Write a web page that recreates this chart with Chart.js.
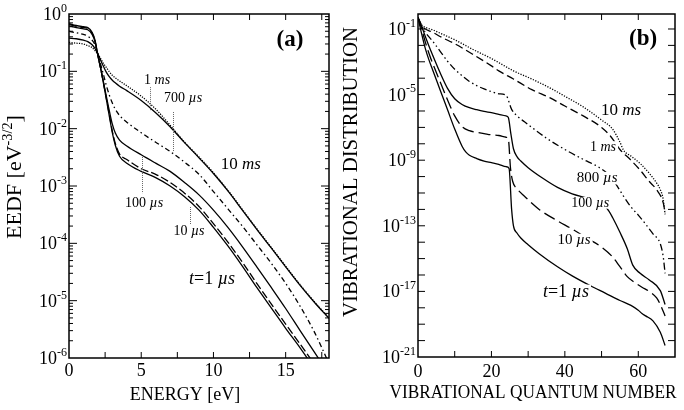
<!DOCTYPE html>
<html><head><meta charset="utf-8">
<script src="https://cdn.jsdelivr.net/npm/chart.js@4.4.0/dist/chart.umd.min.js"></script>
<style>
html,body{margin:0;padding:0;background:#fff;}
#wrap{position:relative;width:684px;height:410px;overflow:hidden;}
canvas{position:absolute;top:0;}
#ca{left:0}
#cb{left:342px}
</style></head><body>
<div id="wrap"><canvas id="ca" width="342" height="410"></canvas><canvas id="cb" width="342" height="410"></canvas></div>
<script>
// ---------------- Panel (a): EEDF vs energy ----------------
const energy = [0, 0.5, 1, 1.3, 1.6, 1.8, 2, 2.2, 2.4, 2.6, 2.8, 3, 3.2, 3.5, 4, 5, 6, 7, 8, 9, 10, 11, 12, 13, 14, 15, 16, 17, 18];
const eedf1us   = [0.68, 0.63, 0.60, 0.58, 0.48, 0.35, 0.19, 0.11, 0.06, 0.031, 0.016, 0.0085, 0.0052, 0.0033, 0.0025, 0.0018, 0.0014, 0.001, 6.5e-4, 3.8e-4, 1.9e-4, 9e-5, 4e-5, 1.7e-5, 7.5e-6, 3.3e-6, 1.5e-6, 6.5e-7, 2.8e-7];
const eedf10us  = [0.66, 0.61, 0.58, 0.56, 0.46, 0.34, 0.19, 0.11, 0.06, 0.032, 0.017, 0.009, 0.0056, 0.0036, 0.0029, 0.002, 0.0016, 0.00115, 7.5e-4, 4.4e-4, 2.2e-4, 1.05e-4, 4.7e-5, 2e-5, 8.8e-6, 3.9e-6, 1.75e-6, 7.7e-7, 3.3e-7];
const eedf100us = [0.62, 0.58, 0.55, 0.53, 0.44, 0.33, 0.19, 0.11, 0.062, 0.035, 0.02, 0.012, 0.0085, 0.0063, 0.005, 0.0035, 0.0025, 0.0018, 0.00115, 7e-4, 3.8e-4, 1.9e-4, 8.8e-5, 3.9e-5, 1.7e-5, 7.3e-6, 3e-6, 1.25e-6, 5.2e-7];
const eedf700us = [0.50, 0.47, 0.44, 0.41, 0.35, 0.29, 0.20, 0.13, 0.085, 0.055, 0.038, 0.028, 0.022, 0.017, 0.013, 0.0085, 0.0058, 0.004, 0.0026, 0.0016, 8e-4, 4e-4, 2e-4, 9.5e-5, 4.5e-5, 2e-5, 8e-6, 2.8e-6, 8e-7];
const eedf1ms   = [0.38, 0.37, 0.35, 0.33, 0.29, 0.25, 0.20, 0.155, 0.12, 0.095, 0.08, 0.07, 0.063, 0.055, 0.046, 0.031, 0.019, 0.0108, 0.0057, 0.0031, 0.00165, 8.2e-4, 3.8e-4, 1.75e-4, 8.3e-5, 3.9e-5, 1.85e-5, 9.3e-6, 4.9e-6];
const eedf10ms  = [0.32, 0.31, 0.30, 0.28, 0.26, 0.23, 0.20, 0.165, 0.135, 0.115, 0.098, 0.085, 0.077, 0.068, 0.056, 0.037, 0.022, 0.0115, 0.0058, 0.0032, 0.0017, 8.4e-4, 3.9e-4, 1.8e-4, 8.5e-5, 4e-5, 1.9e-5, 9.5e-6, 5e-6];
const energyTickLabels = [0, 5, 10, 15];
const energyTickMarks = [2.5, 5, 7.5, 10, 12.5, 15, 17.5];
const eedfTickExps = [0, -1, -2, -3, -4, -5, -6];

// ---------------- Panel (b): vibrational distribution ----------------
const vq1us   = [0, 1, 2, 3, 4, 6, 8, 10, 12, 13, 14, 16, 18, 20, 22, 24, 24.8, 25.5, 26, 27, 28, 30, 33, 38, 42, 47, 51, 55, 58, 60, 61, 62, 64, 66, 67.3];
const vdf1us  = [0.5, 5.0e-2, 6.3e-3, 1.26e-3, 3.2e-4, 2.0e-5, 1.26e-6, 7.9e-8, 7.1e-9, 3.2e-9, 2.0e-9, 1.26e-9, 8.9e-10, 7.1e-10, 5.6e-10, 4.0e-10, 3.2e-10, 1e-12, 1e-13, 3.5e-14, 1.8e-14, 7.1e-15, 2.0e-15, 3.2e-16, 8.9e-17, 2.2e-17, 7.9e-18, 2.8e-18, 1.4e-18, 7.1e-19, 4.5e-19, 3.2e-19, 1.6e-19, 3.2e-20, 5.0e-21];
const vq10us  = [0, 1, 2, 3, 4, 6, 8, 10, 12, 14, 16, 18, 20, 22, 24, 24.6, 25.2, 25.8, 27, 29, 33, 38, 42, 46, 50, 53, 55, 57, 59, 61, 63, 65, 66, 67.3];
const vdf10us = [0.5, 0.1, 1.58e-2, 3.2e-3, 7.9e-4, 6.3e-5, 5.0e-6, 5.0e-7, 1.12e-7, 6.3e-8, 5.0e-8, 4.2e-8, 3.5e-8, 3.2e-8, 2.5e-8, 2.0e-8, 3.2e-10, 5.0e-11, 1.78e-11, 6.3e-12, 1e-12, 2.0e-13, 6.3e-14, 1.78e-14, 5.0e-15, 1.26e-15, 3.2e-16, 7.9e-17, 3.5e-17, 1.78e-17, 1e-17, 4.0e-18, 1.58e-18, 3.2e-19];
const vq100us  = [0, 1, 2, 3, 4, 6, 8, 10, 12, 14, 16, 18, 20, 22, 24, 24.6, 25.3, 26, 27, 28, 30, 34, 38, 42, 46, 50, 52, 53, 55, 57, 58.5, 60.5, 63, 66, 67.3];
const vdf100us = [0.5, 0.141, 3.5e-2, 8.9e-3, 2.5e-3, 2.2e-4, 2.5e-5, 5.6e-6, 2.5e-6, 1.58e-6, 1.2e-6, 9.5e-7, 7.9e-7, 6.3e-7, 5.0e-7, 4.0e-7, 4.0e-8, 5.0e-9, 1.58e-9, 8.9e-10, 3.5e-10, 7.9e-11, 2.2e-11, 8.9e-12, 5.0e-12, 2.5e-12, 7.9e-13, 3.2e-13, 4.0e-14, 4.0e-15, 4.0e-16, 1.26e-16, 5.0e-17, 1.12e-17, 1.58e-18];
const vq800us  = [0, 1, 2, 4, 6, 8, 10, 12, 14, 16, 18, 20, 22, 24, 25.5, 27, 29, 31, 35, 40, 45, 49, 52, 54, 56, 58, 60, 62, 64, 66, 66.8, 67.3];
const vdf800us = [0.5, 0.158, 6.3e-2, 1.78e-2, 4.5e-3, 1.12e-3, 3.5e-4, 1.41e-4, 6.3e-5, 3.5e-5, 2.2e-5, 1.5e-5, 1.12e-5, 8.9e-6, 1.26e-6, 5.0e-7, 2.2e-7, 1e-7, 2.2e-8, 4.5e-9, 1.12e-9, 4.0e-10, 1.26e-10, 3.2e-11, 6.3e-12, 1.41e-12, 4.5e-13, 1.26e-13, 3.2e-14, 7.9e-15, 1.26e-15, 1.26e-16];
const vq1ms  = [0, 1, 2, 4, 6, 10, 15, 20, 22, 26, 31, 36, 40, 45, 50, 52.5, 55, 58, 60.5, 63, 65, 66.8, 67.3];
const vdf1ms = [0.5, 0.158, 0.1, 6.3e-2, 3.5e-2, 1.26e-2, 2.8e-3, 5.6e-4, 2.8e-4, 8.9e-5, 2.0e-5, 6.3e-6, 2.0e-6, 5.0e-7, 1e-7, 2.8e-8, 4.5e-9, 1e-9, 2.5e-10, 5.0e-11, 1.58e-11, 2.5e-12, 6.3e-13];
const vq10ms  = [0, 1, 2, 4, 6, 10, 15, 20, 22, 26, 31, 36, 40, 45, 50, 53, 55, 56, 58, 60.5, 63, 65, 66, 66.8, 67.3];
const vdf10ms = [0.5, 0.178, 0.126, 8.9e-2, 5.6e-2, 2.2e-2, 5.6e-3, 1.58e-3, 8.9e-4, 2.8e-4, 8.9e-5, 2.5e-5, 7.9e-6, 1.78e-6, 2.8e-7, 7.9e-8, 1.26e-8, 4.0e-9, 1.78e-9, 6.3e-10, 1.58e-10, 4.0e-11, 1.58e-11, 4.0e-12, 5.0e-13];
const vibTickLabels = [0, 20, 40, 60];
const vibTickMarks = [10, 20, 30, 40, 50, 60];
const vibTickExps = [-1, -5, -9, -13, -17, -21];

// ---------------- helpers ----------------
const FONT = '"Liberation Serif","Times New Roman",serif';
function fnt(size, it, bold) { return (it ? 'italic ' : '') + (bold ? 'bold ' : '') + size + 'px ' + FONT; }
function pts(xs, ys) { return xs.map((x, i) => ({ x: x, y: ys[i] })); }
function ds(xs, ys, dash) {
  return { data: pts(xs, ys), borderColor: '#000', borderWidth: 1.3, borderDash: dash || [],
    pointRadius: 0, fill: false, cubicInterpolationMode: 'monotone' };
}
function richW(ctx, parts, size) {
  let w = 0;
  for (const p of parts) { ctx.font = fnt(p.s ? size * 0.65 : size, p.i, p.b); w += ctx.measureText(p.t).width; }
  return w;
}
function drawRich(ctx, parts, cx, cy, size, bg, maxW) {
  const w = richW(ctx, parts, size);
  const k = (maxW && w > maxW) ? maxW / w : 1;
  ctx.save(); ctx.translate(cx, cy); ctx.scale(k, 1);
  let x = -w / 2;
  if (bg) { ctx.fillStyle = '#fff'; ctx.fillRect(x - 2, -size * 0.42, w + 4, size * 0.84); }
  ctx.fillStyle = '#000'; ctx.textBaseline = 'middle'; ctx.textAlign = 'left';
  for (const p of parts) {
    const sz = p.s ? size * 0.65 : size;
    ctx.font = fnt(sz, p.i, p.b);
    ctx.fillText(p.t, x, p.s ? -size * 0.32 : 0);
    x += ctx.measureText(p.t).width;
  }
  ctx.restore();
}
function drawSci(ctx, exp, xr, yc, big, small) {
  ctx.textBaseline = 'alphabetic'; ctx.textAlign = 'left'; ctx.fillStyle = '#000';
  ctx.font = fnt(big); const wb = ctx.measureText('10').width;
  ctx.font = fnt(small); const es = String(exp); const we = ctx.measureText(es).width;
  const x0 = xr - we - wb;
  ctx.font = fnt(big); ctx.fillText('10', x0, yc + big * 0.33);
  ctx.font = fnt(small); ctx.fillText(es, x0 + wb, yc - big * 0.12);
}

const decor = {
  id: 'decor',
  afterDatasetsDraw(chart, args, o) {
    const ctx = chart.ctx, a = chart.chartArea, xs = chart.scales.x, ys = chart.scales.y;
    ctx.save();
    // leader lines
    ctx.strokeStyle = '#666'; ctx.lineWidth = 1; ctx.setLineDash([1, 1]);
    for (const l of (o.leaders || [])) {
      const x = Math.round(xs.getPixelForValue(l.x)) + 0.5;
      ctx.beginPath(); ctx.moveTo(x, ys.getPixelForValue(l.y1)); ctx.lineTo(x, ys.getPixelForValue(l.y2)); ctx.stroke();
    }
    ctx.setLineDash([]);
    // curve labels
    for (const n of o.notes) drawRich(ctx, n.parts, xs.getPixelForValue(n.x), ys.getPixelForValue(n.y), n.size, o.noteBg);
    // frame
    ctx.strokeStyle = '#000'; ctx.lineWidth = 1.5;
    ctx.strokeRect(a.left, a.top, a.right - a.left, a.bottom - a.top);
    // ticks (inward, mirrored)
    ctx.lineWidth = 1; ctx.beginPath();
    for (const v of o.xMarks) {
      const x = xs.getPixelForValue(v);
      if (x <= a.left + 1 || x >= a.right - 1) continue;
      ctx.moveTo(x, a.bottom); ctx.lineTo(x, a.bottom - o.xLen);
      ctx.moveTo(x, a.top); ctx.lineTo(x, a.top + o.xLen);
    }
    for (const v of o.yMajor) {
      const y = ys.getPixelForValue(v);
      if (y <= a.top + 1 || y >= a.bottom - 1) continue;
      ctx.moveTo(a.left, y); ctx.lineTo(a.left + o.yLen, y);
      ctx.moveTo(a.right, y); ctx.lineTo(a.right - o.yLen, y);
    }
    for (const v of (o.yMinor || [])) {
      const y = ys.getPixelForValue(v);
      if (y <= a.top + 1 || y >= a.bottom - 1) continue;
      ctx.moveTo(a.left, y); ctx.lineTo(a.left + o.yMinLen, y);
      ctx.moveTo(a.right, y); ctx.lineTo(a.right - o.yMinLen, y);
    }
    ctx.stroke();
    // tick labels
    ctx.fillStyle = '#000'; ctx.textAlign = 'center'; ctx.textBaseline = 'alphabetic';
    ctx.font = fnt(o.tickSize);
    for (const v of o.xLabels) ctx.fillText(String(v), xs.getPixelForValue(v), a.bottom + o.xLabelDy);
    for (const e of o.yExps) drawSci(ctx, e, a.left - 2, ys.getPixelForValue(Math.pow(10, e)), o.tickSize, o.supSize);
    // x title
    drawRich(ctx, o.xTitle.parts, o.xTitle.x, o.xTitle.y, o.xTitle.size, false, o.xTitle.w);
    // y title (rotated)
    ctx.save(); ctx.translate(o.yTitle.x, o.yTitle.y); ctx.rotate(-Math.PI / 2);
    drawRich(ctx, o.yTitle.parts, 0, 0, o.yTitle.size, false, o.yTitle.w);
    ctx.restore();
    // panel tag
    drawRich(ctx, [{ t: o.tag.t, b: true }], xs.getPixelForValue(o.tag.x), ys.getPixelForValue(o.tag.y), o.tag.size, false);
    ctx.restore();
  }
};

function baseOpts(xmin, xmax, ymin, ymax, pad, deco) {
  return {
    responsive: false, animation: false, devicePixelRatio: 1,
    layout: { padding: pad },
    scales: {
      x: { type: 'linear', min: xmin, max: xmax, display: false },
      y: { type: 'logarithmic', min: ymin, max: ymax, display: false }
    },
    plugins: { legend: { display: false }, tooltip: { enabled: false }, decor: deco }
  };
}

const minorA = [];
for (let k = -6; k < 0; k++) for (let m = 2; m <= 9; m++) minorA.push(m * Math.pow(10, k));

new Chart(document.getElementById('ca'), {
  type: 'line',
  data: { datasets: [
    ds(energy, eedf1us, []),
    ds(energy, eedf10us, [8, 3]),
    ds(energy, eedf100us, []),
    ds(energy, eedf700us, [5, 3, 1.5, 3]),
    ds(energy, eedf1ms, []),
    ds(energy, eedf10ms, [1.2, 1.3])
  ] },
  options: baseOpts(0, 18, 1e-6, 1, { left: 69, right: 13, top: 14, bottom: 52 }, {
    xMarks: energyTickMarks, xLabels: energyTickLabels, xLen: 6, xLabelDy: 18,
    yMajor: eedfTickExps.map(e => Math.pow(10, e)), yMinor: minorA, yLen: 8, yMinLen: 4,
    yExps: eedfTickExps, tickSize: 18, supSize: 12,
    xTitle: { parts: [{ t: 'ENERGY [eV]' }], x: 185, y: 395, size: 18, w: 114 },
    yTitle: { parts: [{ t: 'EEDF [eV' }, { t: '-3/2', s: true }, { t: ']' }], x: 15, y: 177, size: 22 },
    tag: { t: '(a)', x: 15.3, y: 0.35, size: 23 },
    noteBg: false,
    leaders: [
      { x: 5.62, y1: 0.053, y2: 0.021 },
      { x: 7.22, y1: 0.0195, y2: 0.0039 },
      { x: 5.07, y1: 3.2e-3, y2: 7.5e-4 },
      { x: 8.4, y1: 4.3e-4, y2: 2.1e-4 }
    ],
    notes: [
      { parts: [{ t: '1 ' }, { t: 'ms', i: true }], x: 6.1, y: 0.07, size: 14 },
      { parts: [{ t: '700 ' }, { t: 'µs', i: true }], x: 7.9, y: 0.034, size: 14 },
      { parts: [{ t: '10 ' }, { t: 'ms', i: true }], x: 11.9, y: 2.4e-3, size: 17 },
      { parts: [{ t: '100 ' }, { t: 'µs', i: true }], x: 5.2, y: 5e-4, size: 14 },
      { parts: [{ t: '10 ' }, { t: 'µs', i: true }], x: 8.3, y: 1.6e-4, size: 14 },
      { parts: [{ t: 't', i: true }, { t: '=1 ' }, { t: 'µs', i: true }], x: 9.9, y: 2.4e-5, size: 18 }
    ]
  }),
  plugins: [decor]
});

new Chart(document.getElementById('cb'), {
  type: 'line',
  data: { datasets: [
    ds(vq1us, vdf1us, []),
    ds(vq10us, vdf10us, [12, 5]),
    ds(vq100us, vdf100us, []),
    ds(vq800us, vdf800us, [7, 3, 1.5, 3, 1.5, 3]),
    ds(vq1ms, vdf1ms, [8, 4]),
    ds(vq10ms, vdf10ms, [1.2, 1.5])
  ] },
  options: baseOpts(0, 70, 1e-21, 0.82, { left: 76, right: 9, top: 14, bottom: 53 }, {
    xMarks: vibTickMarks, xLabels: vibTickLabels, xLen: 6, xLabelDy: 20,
    yMajor: Array.from({ length: 21 }, (_, i) => Math.pow(10, -1 - i)), yMinor: [], yLen: 7, yMinLen: 0,
    yExps: vibTickExps, tickSize: 18, supSize: 12,
    xTitle: { parts: [{ t: 'VIBRATIONAL QUANTUM NUMBER' }], x: 191, y: 393, size: 19, w: 287 },
    yTitle: { parts: [{ t: 'VIBRATIONAL DISTRIBUTION' }], x: 9, y: 172, size: 21, w: 290 },
    tag: { t: '(b)', x: 61.3, y: 0.025, size: 23 },
    noteBg: true,
    leaders: [],
    notes: [
      { parts: [{ t: '10 ' }, { t: 'ms', i: true }], x: 55.3, y: 1.1e-6, size: 17 },
      { parts: [{ t: '1 ' }, { t: 'ms', i: true }], x: 50.4, y: 6.3e-9, size: 14 },
      { parts: [{ t: '800 ' }, { t: 'µs', i: true }], x: 48.8, y: 8e-11, size: 15 },
      { parts: [{ t: '100 ' }, { t: 'µs', i: true }], x: 46.9, y: 2.5e-12, size: 14 },
      { parts: [{ t: '10 ' }, { t: 'µs', i: true }], x: 42.5, y: 1.35e-14, size: 15 },
      { parts: [{ t: 't', i: true }, { t: '=1 ' }, { t: 'µs', i: true }], x: 40.3, y: 9e-18, size: 18 }
    ]
  }),
  plugins: [decor]
});
</script>
</body></html>
